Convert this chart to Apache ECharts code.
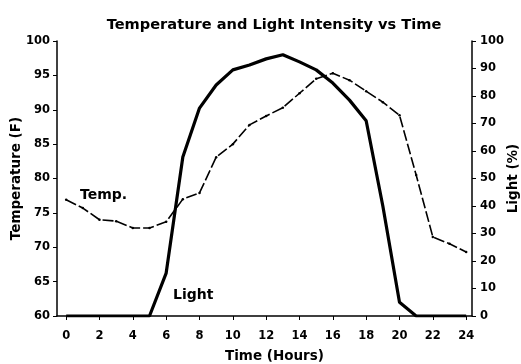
<!DOCTYPE html>
<html>
<head>
<meta charset="utf-8">
<script src="https://cdn.jsdelivr.net/npm/echarts@6/dist/echarts.min.js"></script>
<style>
  html, body { margin: 0; padding: 0; background: #fff; }
  #chart { width: 521px; height: 364px; }
</style>
</head>
<body>
<div id="chart"></div>
<script>
// Hourly readings over one day
const hours = [0, 1, 2, 3, 4, 5, 6, 7, 8, 9, 10, 11, 12, 13, 14, 15, 16, 17, 18, 19, 20, 21, 22, 23, 24];
const temperatureF = [76.9, 75.7, 74.0, 73.8, 72.8, 72.8, 73.7, 77.0, 77.9, 83.1, 85.0, 87.8, 89.1, 90.3, 92.4, 94.5, 95.3, 94.3, 92.7, 91.1, 89.2, 80.5, 71.5, 70.5, 69.3];
const lightPct = [0, 0, 0, 0, 0, 0, 15.6, 57.8, 75.6, 84, 89.5, 91.3, 93.5, 95, 92.4, 89.5, 84.7, 78.5, 71, 40, 5, 0, 0, 0, 0];

// Axis tick labels
const hourTicks = [0, 2, 4, 6, 8, 10, 12, 14, 16, 18, 20, 22, 24];

const FONT = '"DejaVu Sans", sans-serif';
const ink = '#000';

const tempData = hours.map((h, i) => [h, temperatureF[i]]);
const lightData = hours.map((h, i) => [h, lightPct[i]]);

const chart = echarts.init(document.getElementById('chart'), null, { renderer: 'canvas' });

const tickFont = { fontFamily: FONT, fontSize: 11.5, fontWeight: 'bold', color: ink };
const nameFont = { fontFamily: FONT, fontSize: 13.5, fontWeight: 'bold', color: ink };

chart.setOption({
  backgroundColor: '#fff',
  animation: false,
  title: {
    text: 'Temperature and Light Intensity vs Time',
    left: 269,
    textAlign: 'center',
    top: 13,
    textStyle: { fontFamily: FONT, fontSize: 14.6, fontWeight: 'bold', color: ink }
  },
  grid: { left: 57, right: 49, top: 41, bottom: 48, containLabel: false, outerBoundsMode: 'none' },
  xAxis: {
    type: 'value',
    min: -0.55,
    max: 24.35,
    name: 'Time (Hours)',
    nameLocation: 'middle',
    nameGap: 33,
    nameMoveOverlap: false,
    nameTextStyle: Object.assign({ padding: [0, 0, 0, 20] }, nameFont),
    axisLine: { onZero: false, lineStyle: { color: ink, width: 1.5 } },
    axisTick: { customValues: hourTicks, length: 4, lineStyle: { color: ink, width: 1 } },
    axisLabel: Object.assign({ customValues: hourTicks, margin: 14 }, tickFont),
    splitLine: { show: false }
  },
  yAxis: [
    {
      type: 'value',
      position: 'left',
      min: 60,
      max: 100,
      interval: 5,
      name: 'Temperature (F)',
      nameLocation: 'middle',
      nameRotate: 90,
      nameGap: 34,
      nameMoveOverlap: false,
      nameTextStyle: nameFont,
      axisLine: { show: true, onZero: false, lineStyle: { color: ink, width: 1.5 } },
      axisTick: { show: true, length: 4, lineStyle: { color: ink, width: 1 } },
      axisLabel: Object.assign({ margin: 7 }, tickFont),
      splitLine: { show: false }
    },
    {
      type: 'value',
      position: 'right',
      min: 0,
      max: 100,
      interval: 10,
      name: 'Light (%)',
      nameLocation: 'middle',
      nameRotate: 90,
      nameGap: 34,
      nameMoveOverlap: false,
      nameTextStyle: nameFont,
      axisLine: { show: true, onZero: false, lineStyle: { color: ink, width: 1.5 } },
      axisTick: { show: true, length: 4, lineStyle: { color: ink, width: 1 } },
      axisLabel: Object.assign({ margin: 8 }, tickFont),
      splitLine: { show: false }
    }
  ],
  series: [
    {
      name: 'Temp.',
      type: 'line',
      yAxisIndex: 0,
      data: tempData,
      symbol: 'circle',
      symbolSize: 2.5,
      itemStyle: { color: ink },
      lineStyle: { color: ink, width: 1.6, type: [11, 3] },
      z: 3
    },
    {
      name: 'Light',
      type: 'line',
      yAxisIndex: 1,
      data: lightData,
      showSymbol: false,
      lineStyle: { color: ink, width: 3.2 },
      z: 4
    }
  ],
  graphic: [
    {
      type: 'text',
      left: 80,
      top: 188,
      style: { text: 'Temp.', fontFamily: FONT, fontSize: 14, fontWeight: 'bold', fill: ink }
    },
    {
      type: 'text',
      left: 173,
      top: 288,
      style: { text: 'Light', fontFamily: FONT, fontSize: 14, fontWeight: 'bold', fill: ink }
    }
  ]
});
</script>
</body>
</html>
